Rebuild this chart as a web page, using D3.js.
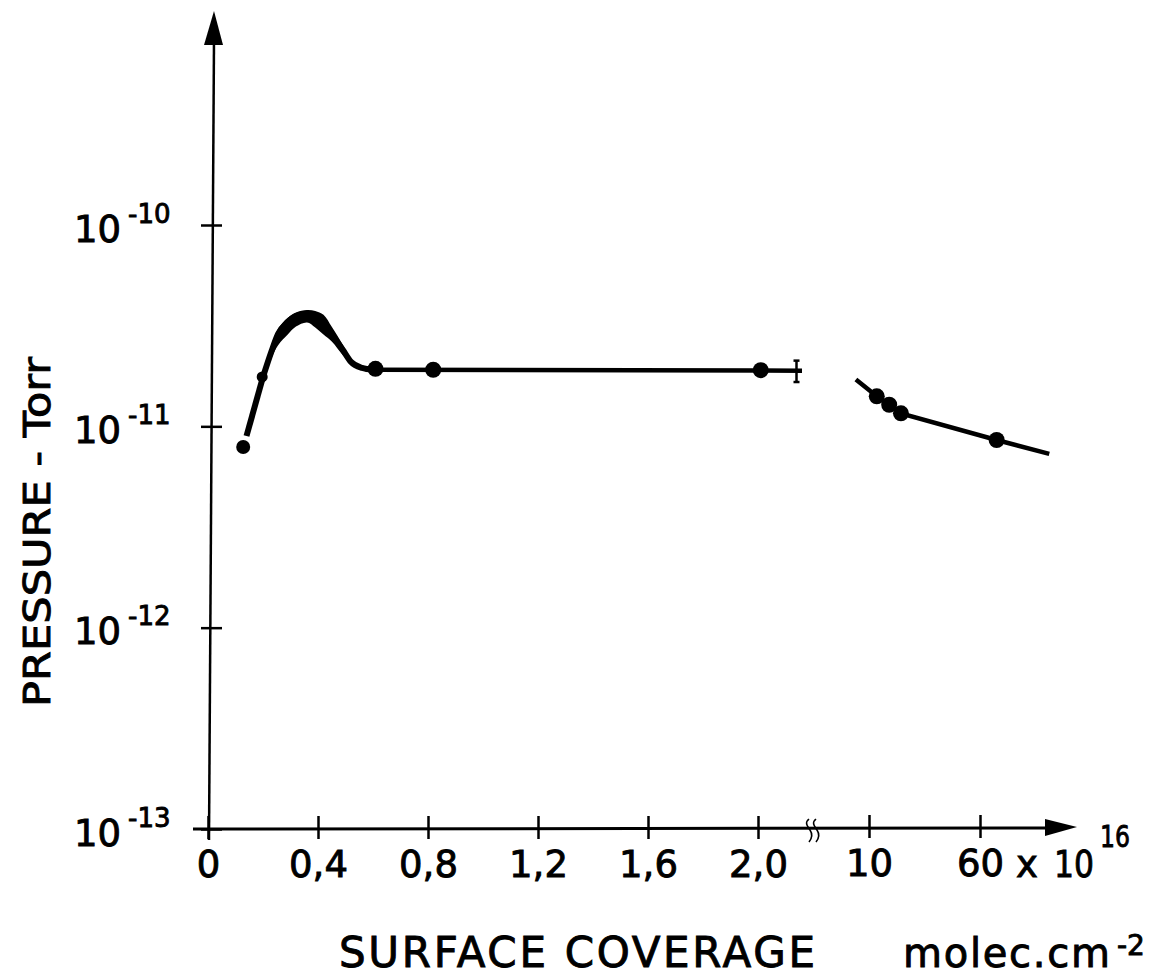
<!DOCTYPE html>
<html>
<head>
<meta charset="utf-8">
<script src="https://cdn.jsdelivr.net/npm/d3@7"></script>
<style>
  body { margin: 0; background: #fff; }
  svg { display: block; }
  text { font-family: "DejaVu Sans", sans-serif; fill: #000; stroke: #000; stroke-width: 0.9px; }
</style>
</head>
<body>
<svg width="1173" height="979"></svg>
<script>
// coverage in 10^16 molec/cm2, pressure in Torr
var lowTicks = [0, 0.4, 0.8, 1.2, 1.6, 2.0];
var highTicks = [10, 60];
var pressureTicks = [1e-13, 1e-12, 1e-11, 1e-10];
var pressureExp = ["-13", "-12", "-11", "-10"];

// low coverage curve (centre line)
var riseCov = [0.14, 0.20];
var riseP = [8.95e-12, 1.76e-11];
var curveCov = [0.20, 0.23, 0.255, 0.29, 0.32, 0.36, 0.39, 0.42, 0.45, 0.49, 0.52, 0.56, 0.60];
var curveP = [1.76e-11, 2.34e-11, 2.88e-11, 3.30e-11, 3.53e-11, 3.62e-11, 3.53e-11, 3.30e-11, 2.88e-11, 2.40e-11, 2.09e-11, 1.95e-11, 1.91e-11];

// spread of the peak (thick part of the curve)
var bandCov = [0.20, 0.23, 0.255, 0.29, 0.32, 0.36, 0.39, 0.42, 0.45, 0.49, 0.52];
var bandHigh = [1.80e-11, 2.52e-11, 3.05e-11, 3.46e-11, 3.68e-11, 3.78e-11, 3.74e-11, 3.58e-11, 3.12e-11, 2.54e-11, 2.12e-11];
var bandLow = [1.70e-11, 2.17e-11, 2.53e-11, 2.86e-11, 3.13e-11, 3.28e-11, 3.10e-11, 2.86e-11, 2.64e-11, 2.26e-11, 2.05e-11];

var plateauCov = [0.60, 2.16];
var plateauP = [1.91e-11, 1.89e-11];

var dotCov = [0.128, 0.197, 0.609, 0.819, 2.01];
var dotP = [7.9e-12, 1.76e-11, 1.93e-11, 1.91e-11, 1.90e-11];

var errCov = 2.14, errLow = 1.66e-11, errHigh = 2.12e-11;

// high coverage branch
var highLineCov = [4.1, 13.5, 19.1, 24.4, 67.5, 91.2];
var highLineP = [1.71e-11, 1.41e-11, 1.28e-11, 1.16e-11, 8.55e-12, 7.30e-12];
var highDotCov = [13.5, 19.1, 24.4, 67.5];
var highDotP = [1.41e-11, 1.28e-11, 1.16e-11, 8.55e-12];

var svg = d3.select("svg");

var xLow = d3.scaleLinear().domain([0, 2]).range([208, 758]),
    xHigh = d3.scaleLinear().domain([10, 60]).range([869, 980]),
    y = d3.scaleLog().domain([1e-13, 1e-10]).range([829, 225]);

var axisY0 = y(1e-13), axisX0 = 211;

// x axis
svg.append("line")
    .attr("x1", 193).attr("x2", 1050)
    .attr("y1", axisY0).attr("y2", axisY0 - 1)
    .attr("stroke", "#000").attr("stroke-width", 3);
svg.append("path")
    .attr("d", "M1045,819 L1077,827 L1045,836 Z")
    .attr("fill", "#000");

function fmt(d) { return d === 0 ? "0" : d3.format(".1f")(d).replace(".", ","); }

function styleX(g) {
  g.attr("font-family", null).attr("font-size", null);
  g.select(".domain").remove();
  g.selectAll(".tick line")
      .attr("y1", -13).attr("y2", 10)
      .attr("stroke", "#000").attr("stroke-width", 2.5);
  g.selectAll(".tick text")
      .attr("y", 48).attr("dy", 0)
      .attr("font-size", 37);
}

svg.append("g")
    .attr("transform", "translate(0," + axisY0 + ")")
    .call(d3.axisBottom(xLow).tickValues(lowTicks).tickFormat(fmt).tickSizeOuter(0))
    .call(styleX);

svg.append("g")
    .attr("transform", "translate(0," + (axisY0 - 1) + ")")
    .call(d3.axisBottom(xHigh).tickValues(highTicks).tickFormat(d3.format("d")).tickSizeOuter(0))
    .call(styleX);

// axis break marks
[809, 816].forEach(function(bx) {
  svg.append("path")
      .attr("d", "M" + bx + ",819 c-5,4 -1,8 1,11 c2,3 3,7 -1,12")
      .attr("fill", "none").attr("stroke", "#000").attr("stroke-width", 1.6);
});

// y axis
svg.append("line")
    .attr("x1", axisX0 - 2).attr("x2", axisX0 + 3)
    .attr("y1", 840).attr("y2", 40)
    .attr("stroke", "#000").attr("stroke-width", 2.5);
svg.append("path")
    .attr("d", "M204,45 L214,11 L223,45 Z")
    .attr("fill", "#000");

var yg = svg.append("g")
    .attr("transform", "translate(" + axisX0 + ",0)")
    .call(d3.axisLeft(y).tickValues(pressureTicks).tickFormat("").tickSizeOuter(0));
yg.attr("font-family", null).attr("font-size", null).attr("text-anchor", null);
yg.select(".domain").remove();
yg.selectAll(".tick line")
    .attr("x1", -10).attr("x2", 11)
    .attr("stroke", "#000").attr("stroke-width", 2.5);
yg.selectAll(".tick").each(function(d, i) {
  var t = d3.select(this);
  t.append("text").attr("x", -90).attr("y", 16)
      .attr("text-anchor", "end").attr("font-size", 37).text("10");
  t.append("text").attr("x", -83).attr("y", -3)
      .attr("text-anchor", "start").attr("font-size", 26).text(pressureExp[i]);
});

// curve
var band = d3.area()
    .x(function(d, i) { return xLow(bandCov[i]); })
    .y0(function(d, i) { return y(bandLow[i]); })
    .y1(function(d, i) { return y(bandHigh[i]); })
    .curve(d3.curveCatmullRom);
svg.append("path").datum(bandCov).attr("d", band).attr("fill", "#000");

var rise = d3.line()
    .x(function(d, i) { return xLow(riseCov[i]); })
    .y(function(d, i) { return y(riseP[i]); });
svg.append("path").datum(riseCov).attr("d", rise)
    .attr("fill", "none").attr("stroke", "#000").attr("stroke-width", 6);

var line = d3.line()
    .x(function(d, i) { return xLow(curveCov[i]); })
    .y(function(d, i) { return y(curveP[i]); })
    .curve(d3.curveMonotoneX);
svg.append("path").datum(curveCov).attr("d", line)
    .attr("fill", "none").attr("stroke", "#000").attr("stroke-width", 6)
    .attr("stroke-linecap", "round");

svg.append("line")
    .attr("x1", xLow(plateauCov[0])).attr("x2", xLow(plateauCov[1]))
    .attr("y1", y(plateauP[0])).attr("y2", y(plateauP[1]))
    .attr("stroke", "#000").attr("stroke-width", 4.5);

// error bar
svg.append("line")
    .attr("x1", xLow(errCov)).attr("x2", xLow(errCov))
    .attr("y1", y(errLow)).attr("y2", y(errHigh))
    .attr("stroke", "#000").attr("stroke-width", 2.5);
[errLow, errHigh].forEach(function(p) {
  svg.append("line")
      .attr("x1", xLow(errCov) - 3).attr("x2", xLow(errCov) + 3)
      .attr("y1", y(p)).attr("y2", y(p))
      .attr("stroke", "#000").attr("stroke-width", 2.5);
});

svg.selectAll(".dot-low")
    .data(dotCov)
  .enter().append("circle")
    .attr("class", "dot-low")
    .attr("cx", function(d) { return xLow(d); })
    .attr("cy", function(d, i) { return y(dotP[i]); })
    .attr("r", function(d, i) { return i === 0 ? 7 : (i === 1 ? 5.5 : 8); })
    .attr("fill", "#000");

// high coverage branch
var lineHigh = d3.line()
    .x(function(d, i) { return xHigh(highLineCov[i]); })
    .y(function(d, i) { return y(highLineP[i]); });
svg.append("path").datum(highLineCov).attr("d", lineHigh)
    .attr("fill", "none").attr("stroke", "#000").attr("stroke-width", 4.5);

svg.selectAll(".dot-high")
    .data(highDotCov)
  .enter().append("circle")
    .attr("class", "dot-high")
    .attr("cx", function(d) { return xHigh(d); })
    .attr("cy", function(d, i) { return y(highDotP[i]); })
    .attr("r", 8)
    .attr("fill", "#000");

// multiplier
svg.append("text").attr("x", 1016).attr("y", 877).attr("font-size", 37).text("x");
svg.append("text").attr("x", 1054).attr("y", 877).attr("font-size", 37)
    .attr("textLength", 40).attr("lengthAdjust", "spacingAndGlyphs").text("10");
svg.append("text").attr("x", 1100).attr("y", 847).attr("font-size", 30)
    .attr("textLength", 30).attr("lengthAdjust", "spacingAndGlyphs").text("16");

// titles
svg.append("text")
    .attr("transform", "translate(50,532) rotate(-90)")
    .attr("text-anchor", "middle")
    .attr("font-size", 37)
    .attr("textLength", 350).attr("lengthAdjust", "spacingAndGlyphs")
    .text("PRESSURE - Torr");

svg.append("text")
    .attr("x", 339).attr("y", 967)
    .attr("font-size", 42)
    .attr("textLength", 476).attr("lengthAdjust", "spacing")
    .text("SURFACE  COVERAGE");

svg.append("text")
    .attr("x", 903).attr("y", 967)
    .attr("font-size", 40)
    .attr("textLength", 207).attr("lengthAdjust", "spacing")
    .text("molec.cm");
svg.append("text")
    .attr("x", 1117).attr("y", 955)
    .attr("font-size", 28)
    .text("-2");
</script>
</body>
</html>
